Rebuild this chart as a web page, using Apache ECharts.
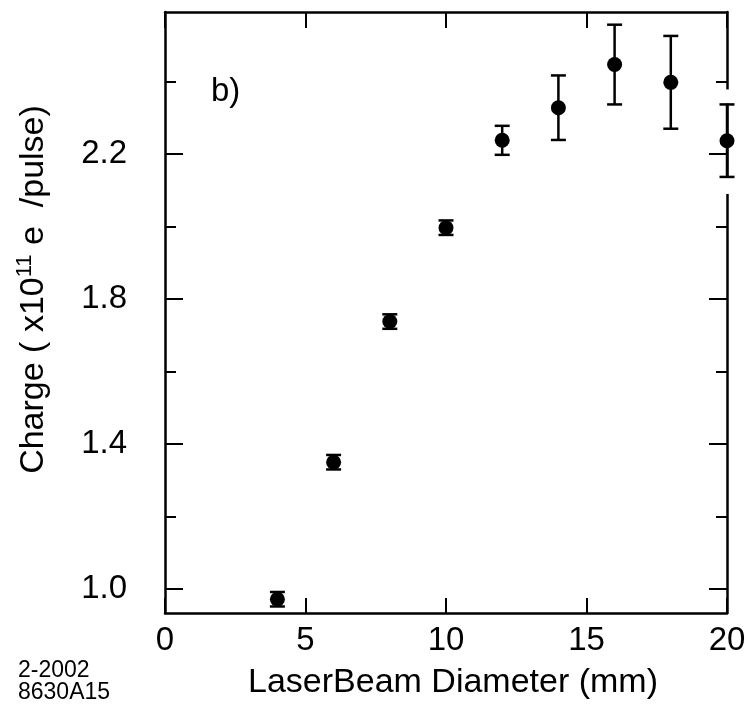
<!DOCTYPE html>
<html>
<head>
<meta charset="utf-8">
<script src="https://cdn.jsdelivr.net/npm/echarts@6/dist/echarts.min.js"></script>
<style>html,body{margin:0;padding:0;background:#fff;}#c{width:749px;height:706px;}</style>
</head>
<body>
<div id="c"></div>
<script>
// Data
var diameter = [4, 6, 8, 10, 12, 14, 16, 18, 20];
var charge   = [0.972, 1.350, 1.738, 1.997, 2.238, 2.328, 2.447, 2.398, 2.237];
var chargeErr = [0.02, 0.02, 0.02, 0.02, 0.04, 0.089, 0.11, 0.128, 0.10];
var yMajor = [1.0, 1.4, 1.8, 2.2];
var yMinor = [1.2, 1.6, 2.0, 2.4];

var FONT = 'Liberation Sans, Arial, Helvetica, sans-serif';
var X_MIN = 0, X_MAX = 20, Y_MIN = 0.934, Y_MAX = 2.592;

var errData = diameter.map(function (d, i) { return [d, charge[i] - chargeErr[i], charge[i] + chargeErr[i]]; });
var ptData = diameter.map(function (d, i) { return [d, charge[i]]; });

var chart = echarts.init(document.getElementById('c'), null, {renderer: 'canvas'});

var axisLine = {show: true, onZero: false, lineStyle: {color: '#000', width: 2.5}};
var noLine = {show: false, onZero: false};

function minorY(pos) {
  return {type: 'value', position: pos, min: Y_MIN, max: Y_MAX,
    axisLine: noLine,
    axisTick: {show: true, inside: true, length: 11, customValues: yMinor, lineStyle: {color: '#000', width: 2}},
    axisLabel: {show: false}, splitLine: {show: false}};
}

chart.setOption({
  animation: false,
  backgroundColor: '#fff',
  title: [
    {text: 'b)', left: 206, top: 70, textStyle: {fontFamily: FONT, fontSize: 33, fontWeight: 'normal', color: '#000'}},
    {text: '2-2002\n8630A15', left: 13, top: 655, textStyle: {fontFamily: FONT, fontSize: 23, lineHeight: 22, fontWeight: 'normal', color: '#000'}}
  ],
  grid: {left: 165, right: 22, top: 12, bottom: 93, containLabel: false},
  xAxis: [
    {type: 'value', position: 'bottom', min: X_MIN, max: X_MAX, interval: 5,
     axisLine: axisLine,
     axisTick: {show: true, inside: true, length: 15, lineStyle: {color: '#000', width: 2}},
     axisLabel: {show: true, margin: 11, fontFamily: FONT, fontSize: 33, color: '#000'},
     splitLine: {show: false},
     name: 'LaserBeam Diameter (mm)', nameLocation: 'middle', nameGap: 53,
     nameTextStyle: {fontFamily: FONT, fontSize: 34, color: '#000', padding: [0, 0, 0, 14]}},
    {type: 'value', position: 'top', min: X_MIN, max: X_MAX, interval: 5,
     axisLine: axisLine,
     axisTick: {show: true, inside: true, length: 16, lineStyle: {color: '#000', width: 2}},
     axisLabel: {show: false}, splitLine: {show: false}}
  ],
  yAxis: [
    {type: 'value', position: 'left', min: Y_MIN, max: Y_MAX,
     axisLine: axisLine,
     axisTick: {show: true, inside: true, length: 18, customValues: yMajor, lineStyle: {color: '#000', width: 2}},
     axisLabel: {show: true, margin: 38, customValues: yMajor, fontFamily: FONT, fontSize: 33, color: '#000',
                 formatter: function (v) { return v.toFixed(1); }},
     splitLine: {show: false},
     name: 'Charge ( x10{sup|11} e  /pulse)', nameLocation: 'middle', nameGap: 111, nameRotate: 90,
     nameTextStyle: {fontFamily: FONT, fontSize: 34, color: '#000', lineHeight: 40, padding: [0, 0, 0, 46],
       rich: {sup: {fontFamily: FONT, fontSize: 22, color: '#000', verticalAlign: 'top', lineHeight: 22}}}},
    {type: 'value', position: 'right', min: Y_MIN, max: Y_MAX,
     axisLine: axisLine,
     axisTick: {show: true, inside: true, length: 18, customValues: yMajor, lineStyle: {color: '#000', width: 2}},
     axisLabel: {show: false}, splitLine: {show: false}},
    minorY('left'),
    minorY('right')
  ],
  series: [
    {
      type: 'custom', xAxisIndex: 0, yAxisIndex: 0, clip: false, z: 3,
      data: errData,
      renderItem: function (params, api) {
        var x = api.value(0);
        var top = api.coord([x, api.value(2)]);
        var bot = api.coord([x, api.value(1)]);
        var hw = 7.5;
        var ls = {stroke: '#000', lineWidth: 2.5};
        var children = [];
        if (x === X_MAX) {
          children.push({type: 'rect', shape: {x: top[0] - 3, y: top[1] - 15, width: 6, height: 14}, style: {fill: '#fff'}});
          children.push({type: 'rect', shape: {x: bot[0] - 3, y: bot[1] + 1, width: 6, height: 16}, style: {fill: '#fff'}});
        }
        children.push({type: 'line', shape: {x1: top[0], y1: top[1], x2: bot[0], y2: bot[1]}, style: ls});
        children.push({type: 'line', shape: {x1: top[0] - hw, y1: top[1], x2: top[0] + hw, y2: top[1]}, style: ls});
        children.push({type: 'line', shape: {x1: bot[0] - hw, y1: bot[1], x2: bot[0] + hw, y2: bot[1]}, style: ls});
        return {type: 'group', children: children};
      }
    },
    {
      type: 'scatter', xAxisIndex: 0, yAxisIndex: 0, clip: false, z: 4,
      data: ptData, symbol: 'circle', symbolSize: 15,
      itemStyle: {color: '#000', opacity: 1}
    }
  ]
});
</script>
</body>
</html>
